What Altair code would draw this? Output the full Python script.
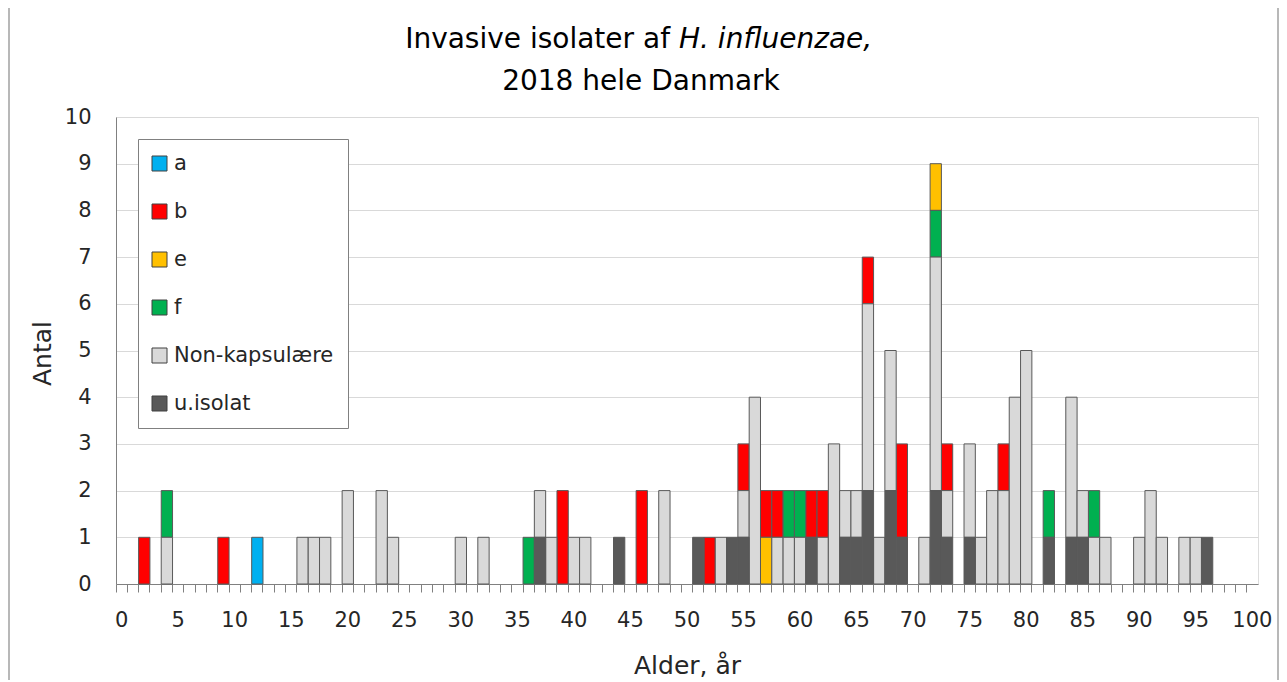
import altair as alt
import pandas as pd

# ---------------- data ----------------
AGES = list(range(0, 101))
SERIES = ["a", "b", "e", "f", "Non-kapsulære", "u.isolat"]
COLORS = ["#00B0F0", "#FF0000", "#FFC000", "#00B050", "#D9D9D9", "#595959"]
STACK_POS = [5, 4, 3, 2, 1, 0]  # bottom-up stacking: u.isolat first

a_ages = [12]
a_counts = [1]

b_ages = [2, 9, 39, 46, 52, 55, 57, 58, 61, 62, 66, 69, 73, 78]
b_counts = [1, 1, 2, 2, 1, 1, 1, 1, 1, 1, 1, 2, 1, 1]

e_ages = [57, 72]
e_counts = [1, 1]

f_ages = [4, 36, 59, 60, 72, 82, 86]
f_counts = [1, 1, 1, 1, 1, 1, 1]

nk_ages = [4, 16, 17, 18, 20, 23, 24, 30, 32, 37, 38, 40, 41, 48, 53, 55, 56,
           58, 59, 60, 62, 63, 64, 65, 66, 67, 68, 71, 72, 73, 75, 76, 77, 78,
           79, 80, 84, 85, 86, 87, 90, 91, 92, 94, 95]
nk_counts = [1, 1, 1, 1, 2, 2, 1, 1, 1, 1, 1, 1, 1, 2, 1, 1, 4,
             1, 1, 1, 1, 3, 1, 1, 4, 1, 3, 1, 5, 1, 2, 1, 2, 2,
             4, 5, 3, 1, 1, 1, 1, 2, 1, 1, 1]

u_ages = [37, 44, 51, 54, 55, 61, 64, 65, 66, 68, 69, 72, 73, 75, 82, 84, 85, 96]
u_counts = [1, 1, 1, 1, 1, 1, 1, 1, 2, 2, 1, 2, 1, 1, 1, 1, 1, 1]

TITLE_1A = "Invasive isolater af"
TITLE_1B = "H. influenzae,"
TITLE_2 = "2018 hele Danmark"
X_TITLE = "Alder, år"
Y_TITLE = "Antal"

# ---------------- table ----------------
groups = [(a_ages, a_counts), (b_ages, b_counts), (e_ages, e_counts),
          (f_ages, f_counts), (nk_ages, nk_counts), (u_ages, u_counts)]
rows = []
for name, pos, (ages, counts) in zip(SERIES, STACK_POS, groups):
    for ag, c in zip(ages, counts):
        rows.append({"age": ag, "serie": name, "count": c, "stack": pos})
df = pd.DataFrame(rows)

# ---------------- layout ----------------
W, H = 1142, 467
PAD_L, PAD_T, PAD_R, PAD_B = 108, 109, 21, 96
FONT = "DejaVu Sans"
TXT = "#262626"
GRAY = "#808080"

bars = alt.Chart(df).mark_bar(stroke="#595959", strokeWidth=1).encode(
    x=alt.X(
        "age:O",
        scale=alt.Scale(domain=AGES, paddingInner=0, paddingOuter=0),
        axis=alt.Axis(
            title=X_TITLE,
            labelExpr="datum.value % 5 === 0 ? datum.label : ''",
            labelAngle=0,
            bandPosition=0,
            tickSize=8,
            tickColor=GRAY,
            domainColor=GRAY,
            labelFontSize=21,
            labelPadding=17,
            labelColor=TXT,
            labelFont=FONT,
            labelOverlap=False,
            labelBound=False,
            titleFontSize=25,
            titleFont=FONT,
            titleFontWeight="normal",
            titleColor=TXT,
            titleBaseline="alphabetic",
            titleY=89,
            grid=False,
        ),
    ),
    y=alt.Y(
        "count:Q",
        stack="zero",
        scale=alt.Scale(domain=[0, 10], nice=False),
        axis=alt.Axis(
            title=Y_TITLE,
            values=list(range(11)),
            ticks=False,
            labelPadding=25,
            labelFontSize=21,
            labelFont=FONT,
            labelColor=TXT,
            domainColor=GRAY,
            gridColor="#D9D9D9",
            gridWidth=1,
            titleFontSize=25,
            titleFont=FONT,
            titleFontWeight="normal",
            titleColor=TXT,
            titleAngle=270,
            titleBaseline="alphabetic",
            titleAlign="center",
            titleX=-66,
            titleY=236,
        ),
    ),
    color=alt.Color(
        "serie:N",
        scale=alt.Scale(domain=SERIES, range=COLORS),
        legend=alt.Legend(
            title=None,
            orient="none",
            legendX=22,
            legendY=22,
            direction="vertical",
            symbolType="square",
            symbolSize=225,
            symbolStrokeColor="#404040",
            symbolStrokeWidth=1,
            symbolOffset=-3,
            labelFontSize=21,
            labelFont=FONT,
            labelColor=TXT,
            labelOffset=4,
            rowPadding=26,
            padding=14,
            strokeColor=GRAY,
            fillColor="white",
        ),
    ),
    order=alt.Order("stack:Q", sort="ascending"),
)

t1a = alt.Chart(pd.DataFrame({"t": [TITLE_1A]})).mark_text(
    font=FONT, fontSize=28, align="right", baseline="alphabetic", color="#000000"
).encode(x=alt.value(554), y=alt.value(-69), text="t:N")

t1b = alt.Chart(pd.DataFrame({"t": [TITLE_1B]})).mark_text(
    font=FONT, fontSize=28, fontStyle="italic", align="left", baseline="alphabetic", color="#000000"
).encode(x=alt.value(563), y=alt.value(-69), text="t:N")

t2 = alt.Chart(pd.DataFrame({"t": [TITLE_2]})).mark_text(
    font=FONT, fontSize=28, align="center", baseline="alphabetic", color="#000000"
).encode(x=alt.value(525), y=alt.value(-27), text="t:N")

frame_l = alt.Chart(pd.DataFrame({"k": [0]})).mark_rule(color="#A0A0A0", strokeWidth=1.5).encode(
    x=alt.value(-PAD_L + 1), y=alt.value(-PAD_T), y2=alt.value(H + PAD_B)
)
frame_r = alt.Chart(pd.DataFrame({"k": [0]})).mark_rule(color="#A0A0A0", strokeWidth=1.5).encode(
    x=alt.value(W + PAD_R - 1), y=alt.value(-PAD_T), y2=alt.value(H + PAD_B)
)

chart = alt.layer(bars, t1a, t1b, t2, frame_l, frame_r).properties(
    width=W,
    height=H,
    autosize=alt.AutoSizeParams(type="none"),
    padding={"left": PAD_L, "top": PAD_T, "right": PAD_R, "bottom": PAD_B},
).configure_view(
    stroke=GRAY, strokeWidth=1
).configure(font=FONT, background="white")

chart.save("out.html", embed_options={"renderer": "svg", "actions": False})
